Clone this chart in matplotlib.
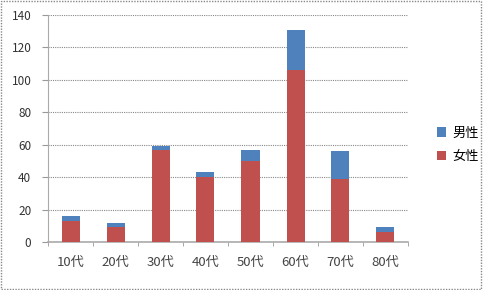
import matplotlib
matplotlib.use("Agg")
import matplotlib.pyplot as plt
from matplotlib.patches import Rectangle
import numpy as np

plt.rcParams['font.family'] = ['Noto Sans CJK JP', 'DejaVu Sans']

categories = ['10代', '20代', '30代', '40代', '50代', '60代', '70代', '80代']
female = [13, 9, 57, 40, 50, 106, 39, 6]
male = [3, 3, 2, 3, 7, 25, 17, 3]
yticks = [0, 20, 40, 60, 80, 100, 120, 140]

fig = plt.figure(figsize=(4.83, 2.90), dpi=100)
ax = fig.add_axes([48/483, 48/290, 360/483, 227/290])

x = np.arange(len(categories))
ax.bar(x, female, width=0.4, color='#C0504D', label='女性', zorder=3)
ax.bar(x, male, width=0.4, bottom=female, color='#4F81BD', label='男性', zorder=3)

ax.set_xlim(-0.5, len(categories) - 0.5)
ax.set_ylim(0, 140)
ax.set_yticks(yticks)
ax.set_yticklabels([str(v) for v in yticks], fontsize=8.5, color='#333333')
ax.set_xticks(x)
ax.set_xticklabels(categories, fontsize=9.5, color='#444444')
ax.tick_params(axis='x', length=0, pad=10)
ax.tick_params(axis='y', length=4, color='#999999', pad=8)
ax.set_xticks(np.arange(-0.5, len(categories)), minor=True)
ax.tick_params(axis='x', which='minor', length=3, color='#999999')

ax.yaxis.grid(True, color='#888888', linestyle=(0, (1, 1)), linewidth=0.8, zorder=0)
for s in ['top', 'right']:
    ax.spines[s].set_visible(False)
ax.spines['left'].set_color('#aaaaaa')
ax.spines['bottom'].set_color('#aaaaaa')
ax.spines['bottom'].set_linewidth(1.2)

handles, labels = ax.get_legend_handles_labels()
fig.legend(handles[::-1], labels[::-1], loc='center left',
           bbox_to_anchor=(425/483, 145/290), frameon=False, fontsize=9.5,
           handlelength=0.7, handleheight=0.7, handletextpad=0.5, labelspacing=0.8)

fig.patches.append(Rectangle((0.003, 0.004), 0.993, 0.992, transform=fig.transFigure,
                             fill=False, edgecolor='#888888', linestyle=(0, (1, 1)), linewidth=1))

fig.savefig('out.png', dpi=100)
